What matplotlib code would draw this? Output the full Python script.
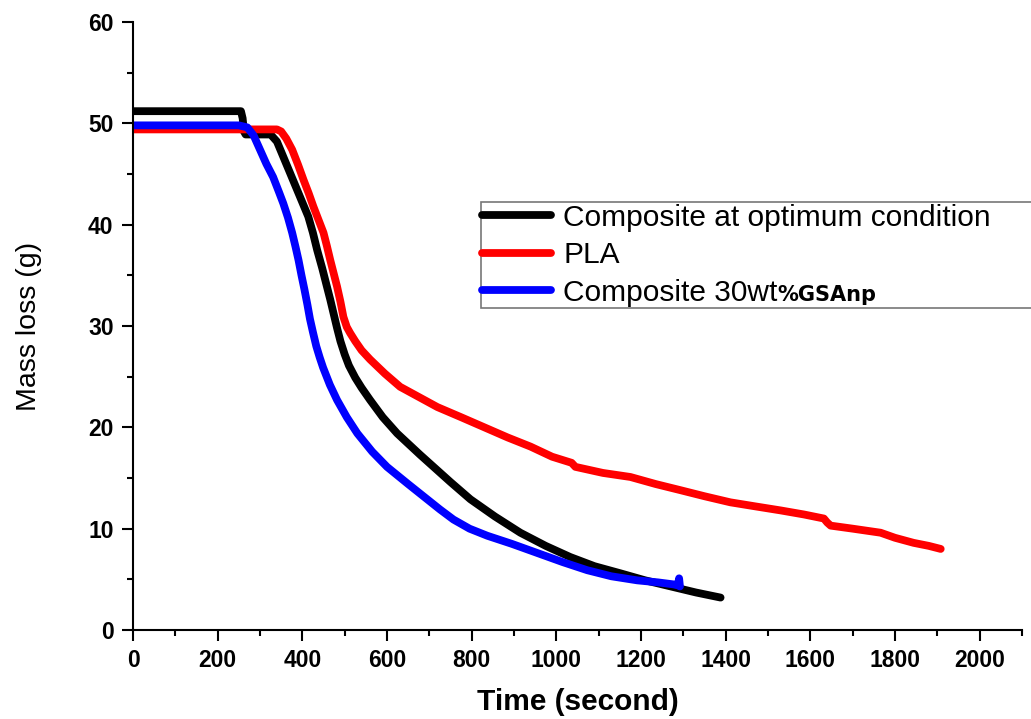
#!/usr/bin/env python3
"""
Mass loss vs time for PLA and the two composites.
Usage: ./plot.py
"""

import matplotlib
matplotlib.use("Agg")
import matplotlib.pyplot as plt
from matplotlib.ticker import MultipleLocator

plt.rcParams['font.family'] = ['Liberation Sans', 'DejaVu Sans']

# Data
time_opt = [0, 255, 259, 262, 266, 325, 340, 355, 372, 388, 401, 414, 425,
            435, 447, 458, 466, 474, 482, 490, 500, 510, 525, 540, 560, 590,
            624, 678, 702, 750, 797, 855, 915, 975, 1033, 1090, 1151, 1210,
            1270, 1330, 1388]
mass_opt = [51.2, 51.2, 50.5, 49.2, 48.9, 48.9, 48.2, 46.7, 45.0, 43.4, 42.1,
            40.8, 39.2, 37.5, 35.7, 33.9, 32.6, 31.2, 29.8, 28.5, 27.2, 26.1,
            24.9, 23.9, 22.7, 21.0, 19.4, 17.3, 16.4, 14.6, 12.9, 11.2, 9.6,
            8.3, 7.2, 6.3, 5.6, 4.9, 4.3, 3.7, 3.2]

time_pla = [0, 340, 350, 362, 376, 390, 403, 415, 426, 438, 450, 458, 466,
            474, 482, 490, 497, 505, 513, 525, 540, 560, 595, 631, 675, 719,
            775, 830, 885, 939, 990, 1036, 1045, 1110, 1175, 1235, 1293, 1350,
            1411, 1470, 1530, 1585, 1632, 1640, 1648, 1700, 1766, 1800, 1844,
            1880, 1908]
mass_pla = [49.4, 49.4, 49.2, 48.5, 47.4, 45.9, 44.4, 43.1, 41.8, 40.5, 39.2,
            37.9, 36.5, 35.2, 33.9, 32.4, 30.9, 29.9, 29.3, 28.5, 27.6, 26.7,
            25.3, 24.0, 23.0, 22.0, 21.0, 20.0, 19.0, 18.1, 17.1, 16.5, 16.1,
            15.5, 15.1, 14.4, 13.8, 13.2, 12.6, 12.2, 11.8, 11.4, 11.0, 10.6,
            10.3, 10.0, 9.6, 9.1, 8.6, 8.3, 8.0]

time_30 = [0, 250, 270, 285, 300, 315, 331, 345, 355, 366, 376, 384, 391,
           398, 405, 412, 418, 425, 433, 441, 449, 465, 482, 505, 530, 565,
           600, 650, 695, 725, 757, 795, 837, 895, 955, 1015, 1073, 1130,
           1191, 1240, 1277, 1287, 1290, 1292]
mass_30 = [49.8, 49.8, 49.6, 48.8, 47.4, 46.0, 44.7, 43.2, 42.1, 40.7, 39.2,
           37.8, 36.5, 35.0, 33.6, 32.1, 30.7, 29.4, 28.0, 26.9, 25.9, 24.2,
           22.7, 21.0, 19.4, 17.6, 16.1, 14.4, 12.9, 11.9, 10.9, 10.0, 9.3,
           8.5, 7.6, 6.7, 5.9, 5.3, 4.9, 4.7, 4.5, 4.4, 5.1, 4.3]

labels = ['Composite at optimum condition', 'PLA', 'Composite 30wt']

fig = plt.figure(figsize=(10.31, 7.19), dpi=100)
ax = fig.add_axes([133 / 1031, 1 - 630 / 719, 889 / 1031, 608 / 719])

lw = 5.6
ax.plot(time_opt, mass_opt, color='black', lw=lw, solid_capstyle='round',
        solid_joinstyle='round', label=labels[0])
ax.plot(time_pla, mass_pla, color='#ff0000', lw=lw, solid_capstyle='round',
        solid_joinstyle='round', label=labels[1])
ax.plot(time_30, mass_30, color='#0000ff', lw=lw, solid_capstyle='round',
        solid_joinstyle='round', label=labels[2])

ax.set_xlim(0, 2100)
ax.set_ylim(0, 60)
ax.xaxis.set_major_locator(MultipleLocator(200))
ax.xaxis.set_minor_locator(MultipleLocator(100))
ax.yaxis.set_major_locator(MultipleLocator(10))
ax.yaxis.set_minor_locator(MultipleLocator(5))

for side in ['top', 'right']:
    ax.spines[side].set_visible(False)
for side in ['left', 'bottom']:
    ax.spines[side].set_linewidth(1.5)

ax.tick_params(which='major', direction='out', length=8, width=1.5, pad=6,
               labelsize=16.5)
ax.tick_params(which='minor', direction='out', length=4.5, width=1.5)
for lab in ax.get_xticklabels() + ax.get_yticklabels():
    lab.set_fontweight('bold')

ax.set_xlabel('Time (second)', fontsize=21.5, fontweight='bold', labelpad=11)
ax.set_ylabel('Mass loss (g)', fontsize=20.5, labelpad=33)

leg = ax.legend(loc='upper left', bbox_to_anchor=(481 / 1031, 1 - 203 / 719, 0.6, 0.001),
                bbox_transform=fig.transFigure, mode='expand', fontsize=21.5,
                frameon=True, fancybox=False, handlelength=2.3,
                handletextpad=0.4, borderpad=0.05, labelspacing=0.32,
                borderaxespad=0)
leg.get_frame().set_edgecolor('#555555')
leg.get_frame().set_linewidth(1.2)

# the "%GSAnp" part of the last label is set in a smaller bold face
fig.canvas.draw()
ax.annotate('%GSAnp', xy=(1, 0.22), xycoords=leg.get_texts()[2],
            va='baseline', ha='left', fontsize=15, fontweight='bold',
            family=['DejaVu Sans'], zorder=10)

fig.savefig('out.png', dpi=100)
plt.close(fig)
